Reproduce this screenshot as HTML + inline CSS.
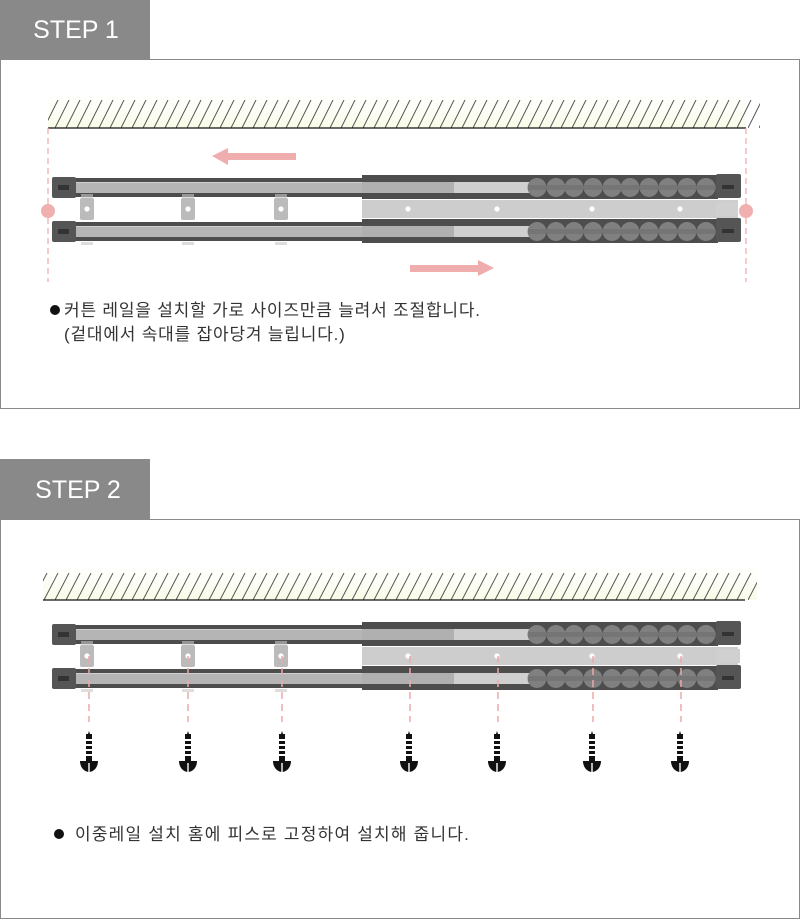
<!DOCTYPE html>
<html><head><meta charset="utf-8"><style>
html,body{margin:0;padding:0;background:#fff;}
svg{display:block;}
text{font-family:"Liberation Sans","Noto Sans CJK KR",sans-serif;}
</style></head><body>
<svg width="800" height="920" viewBox="0 0 800 920" xmlns="http://www.w3.org/2000/svg">
<defs>
  <linearGradient id="glow" x1="0" y1="0" x2="0" y2="1">
    <stop offset="0" stop-color="#fdfef4" stop-opacity="0.2"/>
    <stop offset="1" stop-color="#f8fbe6"/>
  </linearGradient>
  <pattern id="hatch1" x="0" y="100" width="11" height="28" patternUnits="userSpaceOnUse">
    <line x1="0" y1="28" x2="14" y2="0" stroke="#555" stroke-width="1"/>
    <line x1="-11" y1="28" x2="3" y2="0" stroke="#555" stroke-width="1"/>
  </pattern>
  <pattern id="hatch2" x="0" y="573" width="11" height="27" patternUnits="userSpaceOnUse">
    <line x1="0" y1="27" x2="14" y2="0" stroke="#555" stroke-width="1"/>
    <line x1="-11" y1="27" x2="3" y2="0" stroke="#555" stroke-width="1"/>
  </pattern>
  <g id="bracket">
    <rect x="-6" y="-4" width="12" height="4" fill="#c8c8c8" opacity="0.6"/>
    <rect x="-7" y="0" width="14" height="22" rx="2" fill="#bbb"/>
    <rect x="-6" y="44" width="12" height="3" fill="#ddd"/>
    <circle cx="0" cy="11" r="2.6" fill="#fff"/>
  </g>
  <g id="railrow">
    <rect x="74" y="1" width="290" height="19" fill="#4d4d4d"/>
    <rect x="76" y="5" width="378" height="11" fill="#b5b5b5"/>
    <rect x="362" y="-2" width="356" height="24" fill="#4d4d4d"/>
    <rect x="362" y="5" width="92" height="11" fill="#b0b0b0"/>
    <rect x="454" y="5" width="76" height="11" fill="#cfcfcf"/>
    <rect x="76" y="5" width="286" height="1" fill="#d0d0d0"/>
    <g fill="#808080">
      <circle cx="537" cy="10.5" r="9.5"/><circle cx="556" cy="10.5" r="9.5"/>
      <circle cx="574" cy="10.5" r="9.5"/><circle cx="593" cy="10.5" r="9.5"/>
      <circle cx="612" cy="10.5" r="9.5"/><circle cx="630" cy="10.5" r="9.5"/>
      <circle cx="649" cy="10.5" r="9.5"/><circle cx="668" cy="10.5" r="9.5"/>
      <circle cx="687" cy="10.5" r="9.5"/><circle cx="706" cy="10.5" r="9.5"/>
    </g>
    <rect x="528" y="8" width="188" height="5" fill="#6e6e6e" opacity="0.6"/>
    <rect x="52" y="0" width="24" height="21" rx="2" fill="#555"/>
    <rect x="58" y="8" width="11" height="5" fill="#333"/>
    <rect x="716" y="-3" width="25" height="24" rx="2" fill="#555"/>
    <rect x="722" y="8" width="12" height="4" fill="#333"/>
  </g>
  <g id="rails">
    <use href="#railrow" transform="translate(0,177)"/>
    <use href="#railrow" transform="translate(0,221)"/>
    <rect x="362" y="200" width="376" height="18" fill="#cdcdcd"/>
    <rect x="716" y="202" width="22" height="14" fill="#d0d0d0"/>
    <use href="#bracket" transform="translate(87,198)"/>
    <use href="#bracket" transform="translate(188,198)"/>
    <use href="#bracket" transform="translate(281,198)"/>
    <circle cx="408" cy="209" r="2.6" fill="#fff"/>
    <circle cx="497" cy="209" r="2.6" fill="#fff"/>
    <circle cx="592" cy="209" r="2.6" fill="#fff"/>
    <circle cx="680" cy="209" r="2.6" fill="#fff"/>
  </g>
  <g id="screw">
    <polygon points="-2,6 0,0 2,6" fill="#111"/>
    <rect x="-3" y="3" width="6" height="28" fill="#111"/>
    <rect x="-3" y="8" width="6" height="2" fill="#fff"/>
    <rect x="-3" y="13" width="6" height="2" fill="#fff"/>
    <rect x="-3" y="18" width="6" height="2" fill="#fff"/>
    <rect x="-3" y="23" width="6" height="2" fill="#fff"/>
    <path d="M-9,30 L9,30 A9,11 0 0 1 -9,30 Z" fill="#111"/>
    <rect x="-0.7" y="32" width="1.4" height="9" fill="#fff"/>
  </g>
</defs>

<!-- STEP 1 -->
<rect x="0.5" y="59.5" width="799" height="349" fill="#fff" stroke="#8a8a8a"/>
<rect x="0" y="0" width="150" height="59" fill="#898989"/>
<text x="76" y="38" text-anchor="middle" font-size="25" fill="#fff">STEP 1</text>

<rect x="48" y="96" width="698" height="32" fill="url(#glow)"/>
<rect x="48" y="100" width="712" height="28" fill="url(#hatch1)"/>
<rect x="40" y="96" width="8" height="32" fill="#fff"/>
<line x1="48" y1="128" x2="746" y2="128" stroke="#111" stroke-width="1.2"/>
<line x1="48" y1="128" x2="48" y2="282" stroke="#eea8a8" stroke-width="1.2" stroke-dasharray="6,4"/>
<line x1="746" y1="128" x2="746" y2="282" stroke="#eea8a8" stroke-width="1.2" stroke-dasharray="6,4"/>

<polygon points="212,156 228,148 228,153 296,153 296,160 228,160 228,165" fill="#efadad"/>
<polygon points="494,268 478,260 478,265 410,265 410,272 478,272 478,276" fill="#efadad"/>

<use href="#rails"/>
<circle cx="48" cy="211" r="7" fill="#f0b0b0"/>
<circle cx="746" cy="211" r="7" fill="#f0b0b0"/>

<circle cx="55" cy="310" r="5" fill="#111"/>
<text x="64" y="316" font-size="17" letter-spacing="0.8" fill="#333">커튼 레일을 설치할 가로 사이즈만큼 늘려서 조절합니다.</text>
<text x="64" y="340" font-size="17" letter-spacing="0.8" fill="#333">(겉대에서 속대를 잡아당겨 늘립니다.)</text>

<!-- STEP 2 -->
<rect x="0.5" y="519.5" width="799" height="399" fill="#fff" stroke="#8a8a8a"/>
<rect x="0" y="459" width="150" height="60" fill="#898989"/>
<text x="78" y="498" text-anchor="middle" font-size="25" fill="#fff">STEP 2</text>

<rect x="43" y="568" width="714" height="32" fill="url(#glow)"/>
<rect x="43" y="573" width="714" height="27" fill="url(#hatch2)"/>
<rect x="36" y="568" width="7" height="32" fill="#fff"/>
<line x1="43" y1="600" x2="745" y2="600" stroke="#111" stroke-width="1.2"/>

<g transform="translate(0,447)">
  <use href="#rails"/>
  <rect x="716" y="202" width="24" height="14" fill="#d0d0d0"/>
</g>

<g stroke="#eea8a8" stroke-width="1.5" stroke-dasharray="7,5">
  <line x1="89" y1="656" x2="89" y2="722"/>
  <line x1="188" y1="656" x2="188" y2="722"/>
  <line x1="282" y1="656" x2="282" y2="722"/>
  <line x1="410" y1="656" x2="410" y2="722"/>
  <line x1="498" y1="656" x2="498" y2="722"/>
  <line x1="593" y1="656" x2="593" y2="722"/>
  <line x1="681" y1="656" x2="681" y2="722"/>
</g>
<use href="#screw" transform="translate(89,731)"/>
<use href="#screw" transform="translate(188,731)"/>
<use href="#screw" transform="translate(282,731)"/>
<use href="#screw" transform="translate(409,731)"/>
<use href="#screw" transform="translate(497,731)"/>
<use href="#screw" transform="translate(592,731)"/>
<use href="#screw" transform="translate(680,731)"/>

<circle cx="59" cy="834" r="5" fill="#111"/>
<text x="75" y="840" font-size="17" letter-spacing="1.2" fill="#333">이중레일 설치 홈에 피스로 고정하여 설치해 줍니다.</text>
</svg>
</body></html>
